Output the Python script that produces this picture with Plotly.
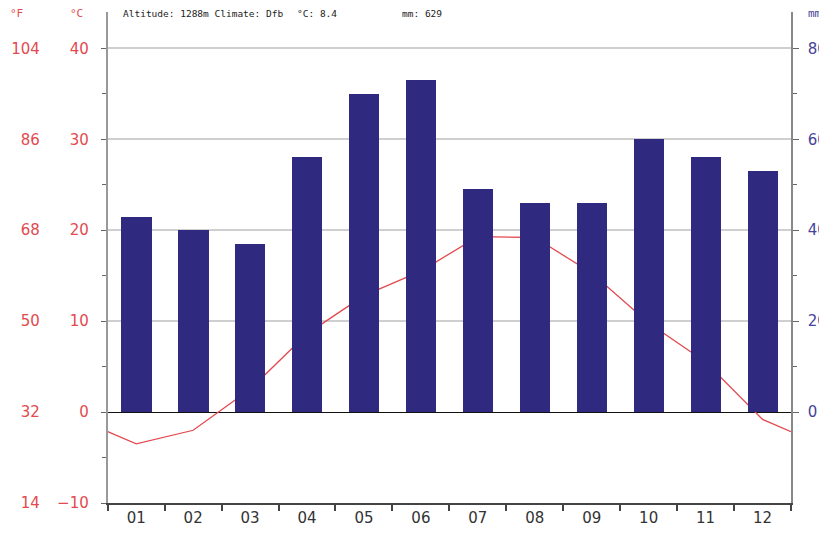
import plotly.graph_objects as go

months = ["01", "02", "03", "04", "05", "06", "07", "08", "09", "10", "11", "12"]
precip_mm = [43, 40, 37, 56, 70, 73, 49, 46, 46, 60, 56, 53]
temp_c = [-3.5, -2.0, 2.5, 8.6, 12.8, 15.5, 19.3, 19.2, 15.3, 9.8, 5.5, -0.8]
c_ticks = [-10, 0, 10, 20, 30, 40]
f_ticks = [14, 32, 50, 68, 86, 104]
mm_ticks = [0, 20, 40, 60, 80]
header_left = "Altitude: 1288m Climate: Dfb"
header_temp = "°C: 8.4"
header_mm = "mm: 629"

OFF = 8  # page body margin
W, H = 827 - OFF, 534 - OFF
ML, MR, MT, MB = 0, 34, 12 - OFF, 31
PW = W - ML - MR
PLOT_LEFT = 108 - OFF

RED = "#e24a50"
BLUE = "#45439a"
BAR = "#2f2a80"

xs = list(range(1, 13))
edge = (temp_c[0] + temp_c[-1]) / 2
line_x = [0.5] + xs + [12.5]
line_y = [edge] + temp_c + [edge]

c_range = [-10, 44]
mm_range = [c * 2 for c in c_range]
f_range = [c * 1.8 + 32 for c in c_range]

fig = go.Figure()
fig.add_trace(go.Bar(x=xs, y=precip_mm, yaxis="y2", marker=dict(color=BAR, line=dict(width=0)),
                     width=0.53, showlegend=False))
fig.add_trace(go.Scatter(x=line_x, y=line_y, yaxis="y", mode="lines",
                         line=dict(color=RED, width=1.3), showlegend=False))
fig.add_trace(go.Scatter(x=[None], y=[None], yaxis="y3", showlegend=False))

fig.update_layout(
    width=W, height=H,
    margin=dict(l=ML, r=MR, t=MT, b=MB),
    plot_bgcolor="white", paper_bgcolor="white",
    bargap=0,
    xaxis=dict(domain=[PLOT_LEFT / PW, 1], range=[0.5, 12.5], tickvals=xs, ticktext=months,
               ticks="", showgrid=False, zeroline=False, showline=True, linecolor="#444", linewidth=1.5,
               tickfont=dict(family="DejaVu Sans", size=15, color="#333"),
               minor=dict(tickvals=[i + 0.5 for i in range(0, 13)], ticks="outside", ticklen=6,
                          tickcolor="#444", tickwidth=1.5, showgrid=False)),
    yaxis=dict(range=c_range, tickvals=c_ticks, ticks="outside", ticklen=5, tickcolor="#666",
               showgrid=True, gridcolor="#cfcfcf", gridwidth=1.5,
               zeroline=True, zerolinecolor="#111", zerolinewidth=1.2,
               showline=True, linecolor="#999", linewidth=2,
               tickfont=dict(family="DejaVu Sans", size=15, color=RED), ticklabelstandoff=9,
               minor=dict(tickvals=[-5, 5, 15, 25, 35], ticks="outside", ticklen=4, tickcolor="#666",
                          showgrid=False)),
    yaxis2=dict(range=mm_range, tickvals=mm_ticks, overlaying="y", side="right", anchor="x",
                ticks="outside", ticklen=6, tickcolor="#666", showgrid=False, zeroline=False,
                showline=True, linecolor="#888", linewidth=1.5,
                tickfont=dict(family="DejaVu Sans", size=15, color=BLUE), ticklabelstandoff=6,
                minor=dict(tickvals=[10, 30, 50, 70], ticks="outside", ticklen=4, tickcolor="#666",
                           showgrid=False)),
    yaxis3=dict(range=f_range, tickvals=f_ticks, overlaying="y", side="left", anchor="free",
                position=(40 - OFF) / PW, ticks="", showgrid=False, zeroline=False, showline=False,
                tickfont=dict(family="DejaVu Sans", size=15, color=RED)),
)

hdr_font = dict(family="DejaVu Sans Mono", size=9.5, color="#222")
anns = [
    dict(text="°F", x=(17 - OFF) / PW, font=dict(family="DejaVu Sans Mono", size=11, color=RED), xanchor="center"),
    dict(text="°C", x=(77 - OFF) / PW, font=dict(family="DejaVu Sans Mono", size=11, color=RED), xanchor="center"),
    dict(text=header_left, x=(121 - OFF) / PW, font=hdr_font, xanchor="left"),
    dict(text=header_temp, x=(296 - OFF) / PW, font=hdr_font, xanchor="left"),
    dict(text=header_mm, x=(401 - OFF) / PW, font=hdr_font, xanchor="left"),
    dict(text="mm", x=(808 - OFF) / PW, font=dict(family="DejaVu Sans Mono", size=11, color=BLUE), xanchor="left"),
]
for a in anns:
    fig.add_annotation(xref="paper", yref="paper", y=1, yanchor="middle", yshift=-1,
                       showarrow=False, **a)

fig.write_html("out.html")
